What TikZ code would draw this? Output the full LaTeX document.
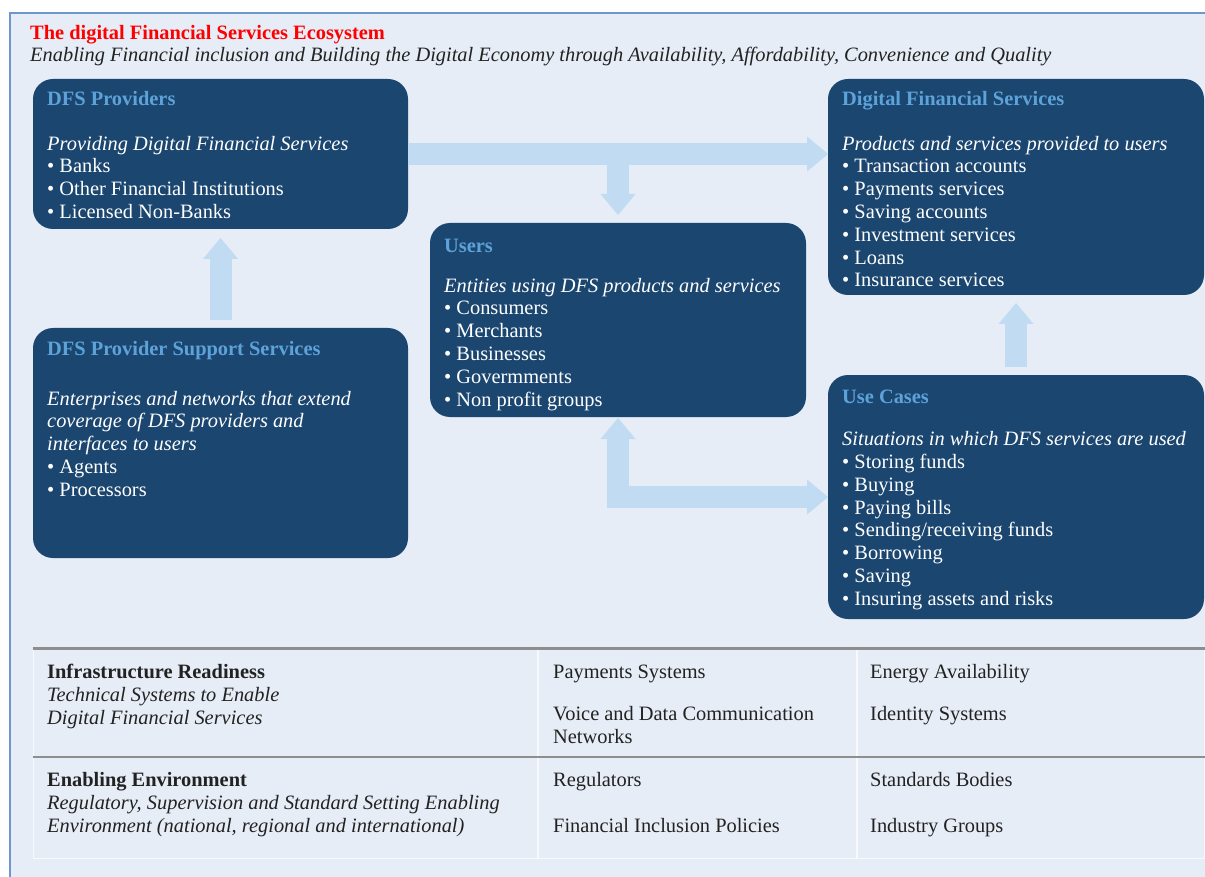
\documentclass[tikz,border=0pt]{standalone}
\usepackage{fontspec}
\setmainfont{Liberation Serif}
\usetikzlibrary{arrows.meta}
\definecolor{navy}{HTML}{1B4670}
\definecolor{headc}{HTML}{5DA3D9}
\definecolor{arrowc}{HTML}{C0DBF2}
\definecolor{bgc}{HTML}{E6EDF6}
\definecolor{framec}{HTML}{6E97CF}
\definecolor{rulec}{HTML}{8E8E8E}
\definecolor{titlec}{HTML}{FF0000}
\definecolor{inkc}{HTML}{222222}
\definecolor{cellline}{HTML}{F7F9FC}
\tikzset{FatTip/.tip={Triangle[length=21pt, width=35pt, line width=0pt]}}
\begin{document}
\begin{tikzpicture}[x=1pt,y=-1pt,
 box/.style={rectangle, rounded corners=20pt, fill=navy, inner sep=0pt, outer sep=0pt},
 hd/.style={anchor=base west, inner sep=0pt, text=headc, font=\fontsize{20.4}{22.8}\selectfont\bfseries},
 body/.style={anchor=north west, inner sep=0pt, align=left, text=white, font=\fontsize{20.4}{22.8}\selectfont},
 ttext/.style={anchor=base west, inner sep=0pt, text=inkc, font=\fontsize{20.4}{23}\selectfont},
 tbody/.style={anchor=north west, inner sep=0pt, align=left, text=inkc, font=\fontsize{20.4}{23}\selectfont},
 fat/.style={draw=arrowc, line width=22pt, line join=miter}
]
\useasboundingbox (0,0) rectangle (1205,877);
% frame and background
\fill[bgc] (10,13) rectangle (1205,877);
\draw[framec, line width=2pt] (10,877) -- (10,13) -- (1205,13);

% title
\node[anchor=base west, inner sep=0pt, text=titlec, font=\fontsize{20.4}{23}\selectfont\bfseries] (title) at (30,39.5) {The digital Financial Services Ecosystem};
\node[anchor=base west, inner sep=0pt, text=inkc, font=\fontsize{20.4}{23}\selectfont\itshape] (subtitle) at (30,61.5) {Enabling Financial inclusion and Building the Digital Economy through Availability, Affordability, Convenience and Quality};

% boxes
\node[box, minimum width=375pt, minimum height=150pt] (prov) at (220.5,154) {};
\node[box, minimum width=375pt, minimum height=230pt] (sup) at (220.5,443) {};
\node[box, minimum width=376pt, minimum height=194pt] (users) at (618,320) {};
\node[box, minimum width=376pt, minimum height=216pt] (dfs) at (1016,187) {};
\node[box, minimum width=376pt, minimum height=244pt] (uc) at (1016,497) {};

% box texts
\node[hd] (provH) at (47,106) {DFS Providers};
\node[body] (provB) at (47,134) {\strut\textit{Providing Digital Financial Services}\\
 • Banks\\ • Other Financial Institutions\\ • Licensed Non-Banks};

\node[hd] (supH) at (47,355.5) {DFS Provider Support Services};
\node[body] (supB) at (47,389) {\strut\textit{Enterprises and networks that extend}\\
 \textit{coverage of DFS providers and}\\ \textit{interfaces to users}\\
 • Agents\\ • Processors};

\node[hd] (usersH) at (444,253) {Users};
\node[body] (usersB) at (444,276) {\strut\textit{Entities using DFS products and services}\\
 • Consumers\\ • Merchants\\ • Businesses\\ • Govermments\\ • Non profit groups};

\node[hd] (dfsH) at (842,106) {Digital Financial Services};
\node[body] (dfsB) at (842,134) {\strut\textit{Products and services provided to users}\\
 • Transaction accounts\\ • Payments services\\ • Saving accounts\\ • Investment services\\ • Loans\\ • Insurance services};

\node[hd] (ucH) at (842,403) {Use Cases};
\node[body] (ucB) at (842,429.5) {\strut\textit{Situations in which DFS services are used}\\
 • Storing funds\\ • Buying\\ • Paying bills\\ • Sending/receiving funds\\ • Borrowing\\ • Saving\\ • Insuring assets and risks};

% arrows
\draw[fat, -FatTip] (prov.east) -- (prov.east -| dfs.west);
\draw[fat, -FatTip] (prov.east -| users.north) -- ([yshift=8pt]users.north);
\draw[fat, -FatTip] ([yshift=8pt]sup.north) -- ([yshift=-9pt]prov.south);
\draw[fat, -FatTip] ([yshift=8pt]uc.north) -- ([yshift=-8pt]dfs.south);
\draw[fat, FatTip-FatTip] ([yshift=-1pt]users.south) -- (users.south |- uc.west) -- (uc.west);

% table
\node[draw=cellline, line width=1pt, minimum width=1171pt, minimum height=209pt, inner sep=0pt] (tbl) at (618.5,753.5) {};
\coordinate (c1) at (538,0);
\coordinate (c2) at (857,0);
\coordinate (r1) at (0,757);
\draw[cellline, line width=1.2pt] (c1 |- tbl.north) -- (c1 |- tbl.south);
\draw[cellline, line width=1.2pt] (c2 |- tbl.north) -- (c2 |- tbl.south);
\draw[rulec, line width=2.5pt] (tbl.north west) -- (tbl.north east);
\draw[rulec, line width=2.5pt] (tbl.west |- r1) -- (tbl.east |- r1);

\node[tbody] (ir) at (47,662) {\strut\textbf{Infrastructure Readiness}\\ \textit{Technical Systems to Enable}\\ \textit{Digital Financial Services}};
\node[ttext] (ps) at (553,678) {Payments Systems};
\node[tbody] (vd) at (553,704) {\strut Voice and Data Communication\\ Networks};
\node[ttext] (ea) at (870,678) {Energy Availability};
\node[ttext] (is) at (870,720) {Identity Systems};

\node[tbody] (ee) at (47,770) {\strut\textbf{Enabling Environment}\\ \textit{Regulatory, Supervision and Standard Setting Enabling}\\ \textit{Environment (national, regional and international)}};
\node[ttext] (rg) at (553,786) {Regulators};
\node[ttext] (fi) at (553,832) {Financial Inclusion Policies};
\node[ttext] (sb) at (870,786) {Standards Bodies};
\node[ttext] (ig) at (870,832) {Industry Groups};
\end{tikzpicture}
\end{document}
